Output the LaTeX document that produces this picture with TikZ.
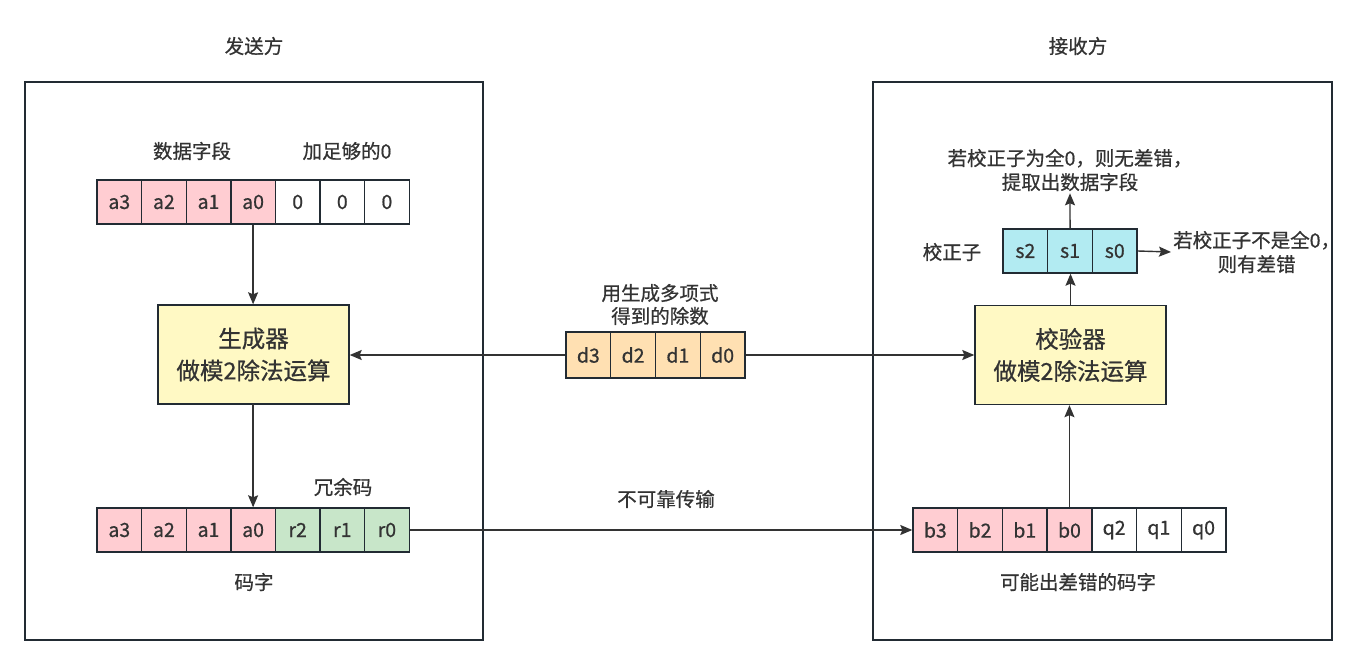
\documentclass[tikz,border=0pt]{standalone}
\usepackage{fontspec}
\setmainfont{Noto Sans CJK SC}[FakeBold=0.7]
\usetikzlibrary{arrows.meta}
\definecolor{pinkc}{HTML}{FFCDD2}
\definecolor{greenc}{HTML}{C8E6C9}
\definecolor{yellowc}{HTML}{FFF9C4}
\definecolor{cyanc}{HTML}{B2EBF2}
\definecolor{orangec}{HTML}{FFE0B2}
\definecolor{inkc}{HTML}{333333}
\definecolor{edgec}{HTML}{222B33}
\tikzset{
  cell/.style={draw=edgec, line width=1.4pt, minimum width=44.6pt, minimum height=44pt, inner sep=0pt, text=inkc, font=\fontsize{19.5}{24}\selectfont},
  proc/.style={draw=edgec, line width=1.4pt, fill=yellowc, minimum width=191pt, minimum height=99pt, align=center, text=inkc, font=\fontsize{23.5}{32}\selectfont},
  lbl/.style={text=inkc, align=center, inner sep=2pt, font=\fontsize{19.5}{24}\selectfont},
  conn/.style={draw=inkc, line width=1.4pt, -{Stealth[length=12pt,width=10pt,inset=2pt]}}
}

\begin{document}
\begin{tikzpicture}[x=1pt,y=-1pt]
			%%%%% START %%%%%
			\useasboundingbox (0,0) rectangle (1371,666);
			
			\draw[edgec, line width=1.5pt] (25, 82) rectangle (483, 640);
			\draw[edgec, line width=1.5pt] (873, 82) rectangle (1332, 640);
			
			\node[lbl] (sendtitle) at (254, 46) {发送方};
			\node[lbl] (recvtitle) at (1078, 46) {接收方};
			
			%% sender: data field + zeros
			\node[lbl] (datalbl) at (192, 151) {数据字段};
			\node[lbl] (zerolbl) at (347, 151) {加足够的0};
			\foreach \t [count=\i] in {a3,a2,a1,a0}
				\node[cell, fill=pinkc] (ta\i) at ({97+44.6*(\i-0.5)}, 202) {\t};
			\foreach \t [count=\i from 5] in {0,0,0}
				\node[cell, fill=white] (ta\i) at ({97+44.6*(\i-0.5)}, 202) {\t};
			
			\node[proc] (gen) at (253.5, 354.5) {生成器\\做模2除法运算};
			
			%% sender: codeword
			\node[lbl] (redlbl) at (343, 487) {冗余码};
			\foreach \t [count=\i] in {a3,a2,a1,a0}
				\node[cell, fill=pinkc] (ca\i) at ({97+44.6*(\i-0.5)}, 530) {\t};
			\foreach \t [count=\i from 5] in {r2,r1,r0}
				\node[cell, fill=greenc] (ca\i) at ({97+44.6*(\i-0.5)}, 530) {\t};
			\node[lbl] (cwlbl) at (254, 582) {码字};
			
			%% divisor
			\node[lbl, font=\fontsize{19.5}{23}\selectfont] (divlbl) at (660, 304.5) {用生成多项式\\得到的除数};
			\foreach \t [count=\i] in {d3,d2,d1,d0}
				\node[cell, fill=orangec, minimum width=44.75pt, minimum height=46pt] (d\i) at ({566+44.75*(\i-0.5)}, 355) {\t};
			
			%% receiver
			\node[proc] (chk) at (1070.5, 355) {校验器\\做模2除法运算};
			\foreach \t [count=\i] in {b3,b2,b1,b0}
				\node[cell, fill=pinkc, minimum width=44.7pt] (b\i) at ({913+44.7*(\i-0.5)}, 530) {\t};
			\foreach \t [count=\i from 5] in {q2,q1,q0}
				\node[cell, fill=white, minimum width=44.7pt] (b\i) at ({913+44.7*(\i-0.5)}, 530) {\t};
			\node[lbl] (rxlbl) at (1078, 582) {可能出差错的码字};
			
			\node[lbl] (synlbl) at (952, 252) {校正子};
			\foreach \t [count=\i] in {s2,s1,s0}
				\node[cell, fill=cyanc, minimum width=44.7pt] (s\i) at ({1003+44.7*(\i-0.5)}, 251) {\t};
			\node[lbl] (oklbl) at (1070, 170) {若校正子为全0，则无差错，\\提取出数据字段};
			\node[lbl, anchor=west] (errlbl) at (1171, 252) {若校正子不是全0，\\则有差错};
			
			\node[lbl] (txlbl) at (666, 499) {不可靠传输};
			
			%% connectors
			\draw[conn] (ta4.south) -- (ta4.south |- gen.north);
			\draw[conn] (gen.south) -- (gen.south -| ca4.north) -- (ca4.north);
			\draw[conn] (d1.west) -- (d1.west -| gen.east);
			\draw[conn] (d4.east) -- (d4.east -| chk.west);
			\draw[conn] (ca7.east) -- (b1.west);
			\draw[conn] (b4.north) -- (b4.north |- chk.south);
			\draw[conn] (chk.north) -- (chk.north |- s2.south);
			\draw[conn] (s2.north) -- (oklbl.south);
			\draw[conn] (s3.east) -- (errlbl.west);
			
			%%%%% END %%%%%
\end{tikzpicture}
\end{document}
